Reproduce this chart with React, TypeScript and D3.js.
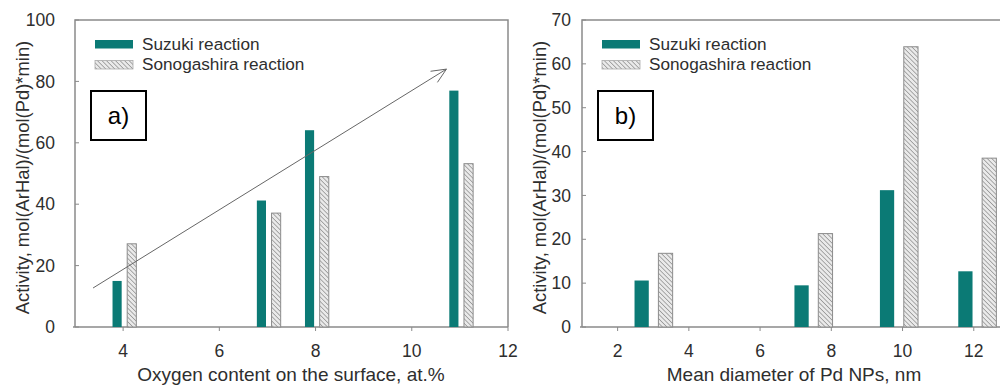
import React from 'react'
import * as d3 from 'd3'

// panel a) : activity vs oxygen content
const oxygenGroups = [4, 7, 8, 11]
const oxygenSuzuki = [15, 41.2, 64.1, 77]
const oxygenSonogashira = [27.1, 37.1, 49, 53.2]
const oxygenTicksX = [4, 6, 8, 10, 12]
const oxygenTicksY = [0, 20, 40, 60, 80, 100]
const arrowFrom = [3.375, 12.7]
const arrowTo = [10.72, 84]

// panel b) : activity vs Pd particle size
const sizeGroups = [3.01, 7.5, 9.9, 12.1]
const sizeSuzuki = [10.6, 9.5, 31.2, 12.7]
const sizeSonogashira = [16.8, 21.3, 63.9, 38.5]
const sizeTicksX = [2, 4, 6, 8, 10, 12]
const sizeTicksY = [0, 10, 20, 30, 40, 50, 60, 70]

const seriesNames = ['Suzuki reaction', 'Sonogashira reaction']
const teal = '#0b7a75'
const axisColor = '#8a8a8a'
const textColor = '#2e2e2e'
const font = '"Liberation Sans", Arial, sans-serif'

interface PanelProps {
  left: number
  right: number
  xDomain: [number, number]
  yMax: number
  groups: number[]
  suzuki: number[]
  sono: number[]
  ticksX: number[]
  ticksY: number[]
  offA: number
  offB: number
  barW: number
  labelGap: number
  titleX: number
  xTitleCenter: number
  xTitle: string
  tag: string
  arrow?: boolean
}

const top = 20
const bottom = 327

const Panel = (p: PanelProps) => {
  const x = d3.scaleLinear().domain(p.xDomain).range([p.left, p.right])
  const y = d3.scaleLinear().domain([0, p.yMax]).range([bottom, top])
  const bw = x(p.xDomain[0] + p.barW) - x(p.xDomain[0])
  const frameRight = Math.min(p.right, 1000)
  const lx = p.left + 20
  return (
    <g fontFamily={font} fill={textColor}>
      {/* frame */}
      <path
        d={`M${p.left},${bottom}V${top}H${frameRight}${p.right <= 1000 ? `V${bottom}` : ''}`}
        fill="none"
        stroke={axisColor}
        strokeWidth={1.5}
      />
      <line x1={p.left - 2} x2={frameRight} y1={bottom} y2={bottom} stroke={axisColor} strokeWidth={1.5} />
      {/* y ticks */}
      {p.ticksY.map((t) => (
        <g key={'y' + t}>
          <line x1={p.left} x2={p.left + 4} y1={y(t)} y2={y(t)} stroke={axisColor} />
          <text x={p.left - p.labelGap} y={y(t)} dy="0.35em" textAnchor="end" fontSize={17.5}>
            {t}
          </text>
        </g>
      ))}
      {/* x ticks */}
      {p.ticksX.map((t) => (
        <g key={'x' + t}>
          <line x1={x(t)} x2={x(t)} y1={bottom} y2={bottom + 4} stroke={axisColor} />
          <text x={x(t)} y={357} textAnchor="middle" fontSize={17.5}>
            {t}
          </text>
        </g>
      ))}
      {/* bars */}
      {p.groups.map((g, i) => (
        <g key={'b' + i}>
          <rect x={x(g + p.offA) - bw / 2} y={y(p.suzuki[i])} width={bw} height={bottom - y(p.suzuki[i])} fill={teal} />
          <rect
            x={x(g + p.offB) - bw / 2}
            y={y(p.sono[i])}
            width={bw}
            height={bottom - y(p.sono[i])}
            fill="url(#hatch)"
            stroke="#8c8c8c"
            strokeWidth={1}
          />
        </g>
      ))}
      {p.arrow && (
        <g stroke="#666" strokeWidth={1} fill="none">
          <line x1={x(arrowFrom[0])} y1={y(arrowFrom[1])} x2={x(arrowTo[0])} y2={y(arrowTo[1])} />
          {(() => {
            const x2 = x(arrowTo[0])
            const y2 = y(arrowTo[1])
            const a = Math.atan2(y2 - y(arrowFrom[1]), x2 - x(arrowFrom[0]))
            const L = 16
            const s = 0.42
            return (
              <path
                d={`M${x2 - L * Math.cos(a - s)},${y2 - L * Math.sin(a - s)}L${x2},${y2}L${x2 - L * Math.cos(a + s)},${y2 - L * Math.sin(a + s)}`}
              />
            )
          })()}
        </g>
      )}
      {/* legend */}
      <rect x={lx} y={40} width={38} height={8.5} fill={teal} />
      <text x={lx + 47} y={50} fontSize={17.2}>
        {seriesNames[0]}
      </text>
      <rect x={lx} y={60.5} width={38} height={8.5} fill="url(#hatch)" stroke="#aaa" strokeWidth={0.8} />
      <text x={lx + 47} y={70} fontSize={17.2}>
        {seriesNames[1]}
      </text>
      {/* panel tag */}
      <rect x={lx - 4} y={91} width={55} height={49} fill="#fff" stroke="#000" strokeWidth={2} />
      <text x={lx - 4 + 27.5} y={124} textAnchor="middle" fontSize={24} fill="#000">
        {p.tag}
      </text>
      {/* axis titles */}
      <text x={p.xTitleCenter} y={381} textAnchor="middle" fontSize={19}>
        {p.xTitle}
      </text>
      <text
        transform={`translate(${p.titleX},${(top + bottom) / 2 + 4}) rotate(-90)`}
        textAnchor="middle"
        fontSize={18.4}
      >
        Activity, mol(ArHal)/(mol(Pd)*min)
      </text>
    </g>
  )
}

const App = () => {
  return (
    <svg
      width={1000}
      height={385}
      style={{ position: 'absolute', left: 0, top: 0, background: '#fff' }}
    >
      <defs>
        <pattern id="hatch" patternUnits="userSpaceOnUse" width={3.2} height={3.2} patternTransform="rotate(-45)">
          <rect width={3.2} height={3.2} fill="#eaeaea" />
          <line x1={0} y1={0} x2={0} y2={3.2} stroke="#737373" strokeWidth={1.1} />
        </pattern>
      </defs>
      <rect width={1000} height={385} fill="#fff" />
      <Panel
        left={75}
        right={508}
        xDomain={[3, 12]}
        yMax={100}
        groups={oxygenGroups}
        suzuki={oxygenSuzuki}
        sono={oxygenSonogashira}
        ticksX={oxygenTicksX}
        ticksY={oxygenTicksY}
        offA={-0.125}
        offB={0.18}
        barW={0.19}
        labelGap={20}
        titleX={29}
        xTitleCenter={291}
        xTitle="Oxygen content on the surface, at.%"
        tag="a)"
        arrow
      />
      <Panel
        left={582}
        right={1045}
        xDomain={[1, 14]}
        yMax={70}
        groups={sizeGroups}
        suzuki={sizeSuzuki}
        sono={sizeSonogashira}
        ticksX={sizeTicksX}
        ticksY={sizeTicksY}
        offA={-0.335}
        offB={0.335}
        barW={0.4}
        labelGap={11}
        titleX={546}
        xTitleCenter={794}
        xTitle="Mean diameter of Pd NPs, nm"
        tag="b)"
      />
    </svg>
  )
}

export default App
